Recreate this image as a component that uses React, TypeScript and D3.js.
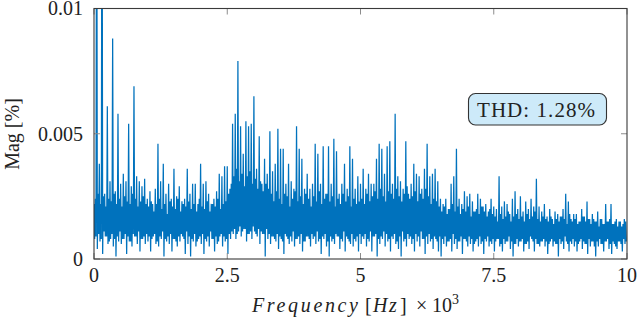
import React from "react";
import * as d3 from "d3";

// Spectrum, one bin every 50 Hz, magnitudes in units of 1e-4 %.
// Each bin holds four samples: tallest peak, deepest trough, then the dense-core high and low.
const BIN_HZ = 50;
const peakMag = [
  22, 200, 38, 200, 26, 61, 31, 88, 27, 58, 30, 34, 31, 54, 29, 69, 33, 31, 29, 32,
  24, 27, 22, 28, 46, 31, 38, 26, 30, 24, 36, 25, 29, 23,
  24, 36, 26, 30, 30, 22, 38, 30, 31, 26, 22, 24, 27, 34, 33, 37, 37, 28,
  54, 58, 79, 53, 42, 55, 53, 54, 65, 36, 49, 30, 40, 34, 51, 35,
  38, 52, 44, 44, 30, 38, 31, 28, 53, 44, 40, 28, 34, 28, 30, 46, 42, 30, 45, 26,
  45, 30, 48, 43, 26, 30, 38, 28, 45, 40, 28, 33,
  30, 36, 28, 34, 30, 30, 40, 46, 44, 34, 45, 47, 30, 58, 33, 31, 28, 47, 26, 30,
  38, 34, 33, 28, 36, 46, 33, 34, 36, 31, 24, 22, 24, 20, 30,
  33, 44, 24, 22, 27, 25, 26, 23, 19, 26, 24, 21, 22, 19, 24, 21, 20, 33, 21, 23,
  22, 18, 24, 27, 20, 25, 19, 23, 20, 24, 21, 32, 21, 19,
  22, 17, 20, 16, 19, 18, 17, 20, 26, 23, 16, 18, 18, 15, 20, 17, 23, 16, 18, 15,
  19, 16, 14, 22, 15, 22, 14, 16, 15, 13, 16,
];
const troughMag = [
  8, 4, 7, 2, 9, 6, 8, 5, 1, 7, 6, 8, 2, 7, 5, 9, 6, 3, 8, 6,
  7, 3, 9, 6, 5, 8, 1, 7, 6, 3, 8, 5, 7, 9, 2, 6, 1, 7, 5, 8,
  6, 2, 7, 5, 8, 3, 6, 9, 5, 7, 2, 8,
  10, 8, 11, 9, 12, 7, 10, 8, 11, 9, 6, 10, 1, 8, 6, 9,
  7, 4, 8, 2, 9, 6, 7, 5, 8, 6, 3, 7, 9, 5, 8, 6, 7, 2, 8, 5, 1, 7, 6, 9, 4, 7, 3, 8, 6, 5, 7, 3,
  6, 8, 5, 7, 3, 9, 1, 6, 8, 5, 7, 3, 8, 6, 4, 1, 7, 5, 8, 6, 3, 7, 5, 8, 2, 6, 7, 4, 8, 3, 1, 6, 5, 7, 3,
  6, 4, 7, 2, 8, 5, 6, 3, 7, 5, 6, 2, 7, 5, 6, 3, 8, 5, 3, 6, 7, 4, 1, 6, 5, 7, 3, 6, 4, 8, 3, 6, 5, 7,
  5, 2, 7, 5, 6, 1, 6, 4, 7, 3, 6, 5, 3, 7, 4, 6, 2, 5, 7, 1, 5, 6, 3, 7, 4, 2, 6, 4, 7, 3, 6,
];
const coreHighMag = [
  24, 26, 22, 25, 21, 24, 23, 26, 22, 24, 21, 25, 23, 22, 26, 24, 21, 23, 25, 22,
  21, 23, 19, 22, 24, 20, 22, 18, 23, 21, 20, 24, 19, 22, 21, 23, 20, 22, 19, 24,
  21, 20, 23, 19, 22, 21, 24, 20, 22, 23,
  26, 30, 33, 36, 31, 34, 29, 33, 35, 30, 32, 28, 31, 27, 30, 28,
  26, 23, 27, 24, 22, 26, 25, 21, 24, 27, 23, 25, 22, 26, 24, 21, 25, 23, 27, 22,
  24, 26, 23, 25, 21, 24, 22, 26, 23, 25, 21, 24, 22, 23,
  24, 22, 26, 23, 25, 27, 24, 28, 25, 23, 27, 26, 24, 28, 25, 23, 26, 29, 24, 25,
  27, 23, 26, 24, 28, 25, 22, 24, 23, 21,
  19, 21, 18, 20, 22, 19, 21, 18, 20, 19, 21, 17, 19, 20, 18, 21, 19, 17, 20, 18,
  17, 15, 18, 16, 17, 19, 15, 17, 18, 16, 17, 15, 18, 16, 17, 19, 16, 15, 17, 16,
  15, 17, 14, 16, 15, 17, 16, 14, 18, 15, 16, 14, 15, 17, 15, 16, 14, 16, 15, 13,
  16, 14, 15, 16, 14, 15, 13, 15, 14, 15,
];
const coreLowMag = [
  9, 10, 8, 11, 9, 7, 10, 8, 9, 11, 8, 10, 9, 7, 10, 9, 11, 8, 9, 10,
  9, 8, 10, 7, 9, 11, 8, 9, 10, 8, 7, 9, 10, 8, 11, 9, 8, 10, 7, 9,
  10, 8, 9, 11, 8, 9, 7, 10, 9, 8,
  10, 11, 12, 10, 13, 11, 12, 10, 11, 13, 10, 12, 11, 10, 12, 10,
  9, 8, 10, 9, 7, 10, 8, 9, 11, 8, 9, 10, 7, 9, 8, 10, 9, 11, 8, 9,
  10, 7, 9, 8, 10, 9, 8, 11, 9, 7, 10, 8, 9, 10,
  9, 10, 8, 11, 9, 10, 8, 9, 11, 10, 8, 9, 10, 7, 9, 11, 8, 10, 9, 8,
  10, 9, 11, 8, 9, 10, 8, 9, 7, 9,
  8, 9, 7, 8, 10, 8, 7, 9, 8, 7, 9, 8, 6, 8, 9, 7, 8, 9, 7, 8,
  7, 8, 6, 8, 7, 9, 7, 6, 8, 7, 8, 6, 7, 9, 7, 8, 6, 7, 8, 7,
  6, 8, 7, 6, 8, 7, 9, 6, 7, 8, 7, 6, 8, 7, 6, 8, 7, 5, 7, 8,
  6, 7, 8, 6, 7, 5, 7, 6, 8, 7,
];
const MAG_UNIT = 1e-4;

const xTicks = [0, 2500, 5000, 7500, 10000];
const xTickLabels = ["0", "2.5", "5", "7.5", "10"];
const yTicks = [0, 0.005, 0.01];
const yTickLabels = ["0", "0.005", "0.01"];
const thdLabel = "THD: 1.28%";

const FONT = "'Liberation Serif', 'Times New Roman', Tinos, 'DejaVu Serif', 'Noto Serif', serif";

export default function App() {
  const left = 94, right = 627, top = 8.5, bottom = 259;
  const x = d3.scaleLinear().domain([0, 10000]).range([left, right]);
  const y = d3.scaleLinear().domain([0, 0.01]).range([bottom, top]);

  const pts: [number, number][] = [];
  const q = BIN_HZ / 4;
  peakMag.forEach((h, i) => {
    const f = i * BIN_HZ;
    pts.push([f, h * MAG_UNIT]);
    pts.push([f + q, troughMag[i] * MAG_UNIT]);
    pts.push([f + 2 * q, coreHighMag[i] * MAG_UNIT]);
    pts.push([f + 3 * q, coreLowMag[i] * MAG_UNIT]);
  });
  const line = d3
    .line<[number, number]>()
    .x((d) => x(d[0]))
    .y((d) => y(d[1]));

  const tickLen = 6;
  const tickColor = "#8c8c8c";
  const ts = { fontFamily: FONT };

  return (
    <svg
      width={640}
      height={320}
      style={{ position: "absolute", left: 0, top: 0, background: "#fff", fontFamily: FONT }}
    >
      <defs>
        <clipPath id="plotclip">
          <rect x={left} y={top} width={right - left} height={bottom - top} />
        </clipPath>
      </defs>

      <g clipPath="url(#plotclip)">
        <path
          d={line(pts) || ""}
          fill="none"
          stroke="#0072BD"
          strokeWidth={1.25}
          strokeLinejoin="miter"
        />
      </g>

      {/* ticks */}
      {xTicks.map((t) => (
        <g key={"xt" + t}>
          <line x1={x(t)} x2={x(t)} y1={bottom} y2={bottom - tickLen} stroke={tickColor} strokeWidth={1} />
          <line x1={x(t)} x2={x(t)} y1={top} y2={top + tickLen} stroke={tickColor} strokeWidth={1} />
        </g>
      ))}
      {yTicks.map((t) => (
        <g key={"yt" + t}>
          <line x1={left} x2={left + tickLen} y1={y(t)} y2={y(t)} stroke={tickColor} strokeWidth={1} />
          <line x1={right} x2={right - tickLen} y1={y(t)} y2={y(t)} stroke={tickColor} strokeWidth={1} />
        </g>
      ))}

      <rect
        x={left}
        y={top}
        width={right - left}
        height={bottom - top}
        fill="none"
        stroke="#3a3a3a"
        strokeWidth={1.1}
      />

      {/* tick labels */}
      {xTicks.map((t, i) => (
        <text key={"xl" + t} x={x(t)} y={282} textAnchor="middle" fontSize={20} fill="#222" style={ts}>
          {xTickLabels[i]}
        </text>
      ))}
      {yTicks.map((t, i) => (
        <text
          key={"yl" + t}
          x={83}
          y={y(t)}
          dy="0.34em"
          textAnchor="end"
          fontSize={20}
          fill="#222"
          style={ts}
        >
          {yTickLabels[i]}
        </text>
      ))}

      {/* axis labels */}
      <text
        transform={`translate(19, 134) rotate(-90)`}
        textAnchor="middle"
        fontSize={20}
        fill="#222"
        style={ts}
      >
        Mag [%]
      </text>

      <text y={312} fontSize={20} fill="#222" style={ts}>
        <tspan x={252} fontStyle="italic" textLength={106} lengthAdjust="spacing">
          Frequency
        </tspan>
        <tspan x={365}>[</tspan>
        <tspan x={373} fontStyle="italic">H</tspan>
        <tspan x={389} fontStyle="italic">z</tspan>
        <tspan x={400}>]</tspan>
        <tspan x={416}>×</tspan>
        <tspan x={432}>10</tspan>
        <tspan dy={-8} fontSize={14}>3</tspan>
      </text>

      {/* THD annotation */}
      <rect
        x={468.5}
        y={93.5}
        width={138}
        height={31.5}
        rx={7}
        fill="#cdeaf9"
        stroke="#333"
        strokeWidth={1.1}
      />
      <text
        x={477}
        y={116.5}
        fontSize={21}
        fill="#222"
        textLength={118}
        lengthAdjust="spacing"
        style={ts}
      >
        {thdLabel}
      </text>
    </svg>
  );
}
